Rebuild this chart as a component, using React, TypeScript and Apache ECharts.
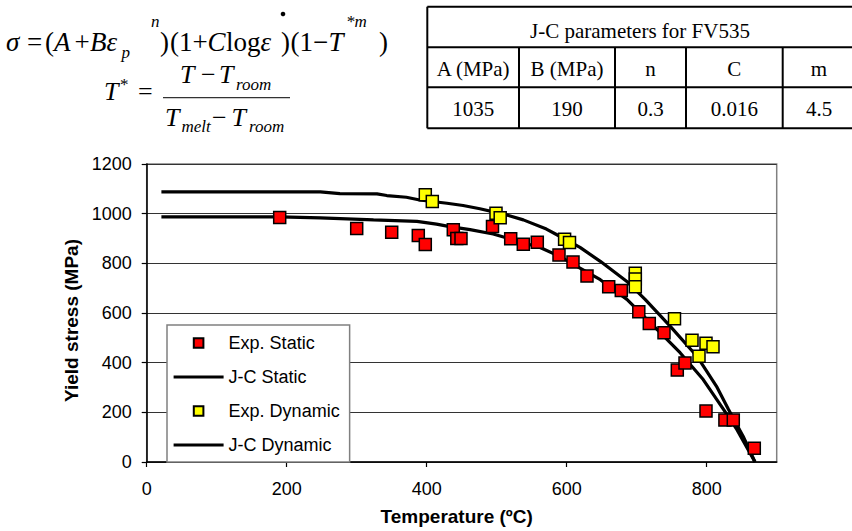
import React, { useEffect, useRef } from 'react';
import * as echarts from 'echarts';

// ---- data ----
const xTickValues = [0, 200, 400, 600, 800];
const legendNames = ['Exp. Static', 'J-C Static', 'Exp. Dynamic', 'J-C Dynamic'];
const xTitle = 'Temperature (ºC)';
const yTitle = 'Yield stress (MPa)';

const expStaticT = [190, 300, 350, 388, 398, 438, 443, 449, 494, 520, 538, 558, 589, 609, 629, 660, 678, 703, 718, 739, 758, 769, 799, 826, 838, 868];
const expStaticS = [985, 940, 925, 912, 876, 935, 900, 900, 948, 899, 877, 885, 834, 805, 749, 706, 691, 605, 558, 520, 370, 399, 205, 169, 169, 55];

const expDynamicT = [398, 408, 499, 505, 597, 604, 698, 698, 698, 754, 779, 789, 799, 809];
const expDynamicS = [1076, 1049, 1002, 984, 897, 884, 760, 737, 706, 577, 490, 426, 478, 464];

const jcStaticT = [21, 190, 248, 324, 386, 414, 433, 462, 495, 529, 562, 590, 619, 648, 686, 724, 762, 795, 824, 843, 869];
const jcStaticS = [987, 987, 983, 975, 969, 958, 948, 936, 918, 890, 864, 828, 781, 734, 655, 548, 440, 332, 212, 131, 0];

const jcDynamicT = [21, 248, 276, 329, 343, 371, 390, 429, 452, 476, 514, 538, 571, 586, 619, 648, 686, 712, 748, 786, 814, 831, 852, 869];
const jcDynamicS = [1088, 1088, 1081, 1080, 1073, 1066, 1055, 1042, 1033, 1020, 995, 975, 938, 915, 864, 808, 727, 655, 546, 426, 305, 212, 104, 0];

const tableTitle = 'J-C parameters for FV535';
const tableHeaders = ['A (MPa)', 'B (MPa)', 'n', 'C', 'm'];
const tableValues = ['1035', '190', '0.3', '0.016', '4.5'];

const SANS = "Arial, 'Liberation Sans', sans-serif";
const SERIF = "'Times New Roman', 'Liberation Serif', serif";

function pairs(xs: number[], ys: number[]) {
  return xs.map((x, i) => [x, ys[i]]);
}

function tok(text: string, x: number, baseline: number, size: number, italic: boolean) {
  return {
    type: 'text',
    silent: true,
    style: {
      text,
      x,
      y: baseline - 0.34 * size,
      font: `${italic ? 'italic ' : ''}${size}px ${SERIF}`,
      fill: '#000',
      textAlign: 'left',
      textVerticalAlign: 'middle',
    },
  };
}

function buildFormula() {
  const b1 = 51;
  const M = 27;
  const S = 17;
  const M2 = 26;
  const els: any[] = [
    tok('σ', 6, b1, M, true),
    tok('=', 27, b1, M, false),
    tok('(', 45, b1, M, false),
    tok('A', 54, b1, M, true),
    tok('+', 74.5, b1, M, false),
    tok('B', 90, b1, M, true),
    tok('ε', 106.5, b1, M, true),
    tok('p', 121.5, 58, S, true),
    tok('n', 151, 27, S, true),
    tok(')', 160, b1, M, false),
    tok('(', 170, b1, M, false),
    tok('1', 179, b1, M, false),
    tok('+', 192.5, b1, M, false),
    tok('C', 207.5, b1, M, true),
    tok('log', 226, b1, M, false),
    tok('ε', 260.5, b1, M, true),
    tok(')', 281, b1, M, false),
    tok('(', 290.5, b1, M, false),
    tok('1', 299.5, b1, M, false),
    tok('−', 313, b1, M, false),
    tok('T', 328.5, b1, M, true),
    tok('*m', 346, 27, S, true),
    tok(')', 379, b1, M, false),
    { type: 'circle', silent: true, shape: { cx: 283, cy: 14, r: 2.3 }, style: { fill: '#000' } },
    // T* line
    tok('T', 104, 100, M2, true),
    tok('*', 120, 90, S, false),
    tok('=', 138, 100, M2, false),
    tok('T', 180, 83, M2, true),
    tok('−', 201, 83, M2, false),
    tok('T', 219, 83, M2, true),
    tok('room', 236, 90, S, true),
    { type: 'line', silent: true, shape: { x1: 163, y1: 97.7, x2: 290, y2: 97.7 }, style: { stroke: '#333', lineWidth: 1.3 } },
    tok('T', 165, 126, M2, true),
    tok('melt', 181.5, 132, S, true),
    tok('−', 212, 126, M2, false),
    tok('T', 231.5, 126, M2, true),
    tok('room', 249, 132, S, true),
  ];
  return els;
}

function buildTable() {
  const L = 427.3, R = 855, T0 = 6.7, r1 = 47.3, r2 = 87.3, B = 128.3;
  const cols = [427.3, 519, 615, 686, 782.7, 855];
  const ln = (x1: number, y1: number, x2: number, y2: number) => ({
    type: 'line', silent: true, shape: { x1, y1, x2, y2 }, style: { stroke: '#000', lineWidth: 2 },
  });
  const els: any[] = [
    ln(L, T0, R, T0), ln(L, r1, R, r1), ln(L, r2, R, r2), ln(L, B, R, B),
    ln(L, T0, L, B),
  ];
  for (let i = 1; i < cols.length - 1; i++) els.push(ln(cols[i], r1, cols[i], B));
  const txt = (text: string, x: number, y: number) => ({
    type: 'text', silent: true,
    style: { text, x, y, font: `21px ${SERIF}`, fill: '#000', textAlign: 'center', textVerticalAlign: 'middle' },
  });
  els.push(txt(tableTitle, 640, 31));
  for (let i = 0; i < tableHeaders.length; i++) {
    const cx = i === 4 ? 819 : (cols[i] + cols[i + 1]) / 2;
    els.push(txt(tableHeaders[i], cx, 69));
    els.push(txt(tableValues[i], cx, 108.5));
  }
  return els;
}

export default function App() {
  const ref = useRef<HTMLDivElement>(null);
  useEffect(() => {
    const chart = echarts.init(ref.current!, null, { renderer: 'svg' });
    const expItem = { borderColor: '#000', borderWidth: 1.5 };
    const option: any = {
      animation: false,
      backgroundColor: '#fff',
      textStyle: { fontFamily: SANS, color: '#000' },
      grid: {
        left: 146.7, right: 75.3, top: 164, bottom: 68.3,
        show: true, borderColor: '#808080', borderWidth: 1.5, backgroundColor: 'transparent',
      },
      xAxis: {
        type: 'value', min: 0, max: 900,
        name: xTitle, nameLocation: 'middle', nameGap: 45,
        nameTextStyle: { fontFamily: SANS, fontWeight: 'bold', fontSize: 19, color: '#000', padding: [0, 10, 0, 0] },
        axisLine: { show: true, lineStyle: { color: '#000', width: 1.5 } },
        axisTick: { show: true, inside: false, length: 5, lineStyle: { color: '#000', width: 1.2 }, customValues: xTickValues },
        axisLabel: { fontSize: 18, color: '#000', margin: 18, fontFamily: SANS, customValues: xTickValues, formatter: (v: number) => String(v) },
        splitLine: { show: false },
      },
      yAxis: {
        type: 'value', min: 0, max: 1200, interval: 200,
        axisLine: { show: true, lineStyle: { color: '#000', width: 1.5 } },
        axisTick: { show: true, inside: false, length: 5, lineStyle: { color: '#000', width: 1.2 } },
        axisLabel: { fontSize: 18, color: '#000', margin: 15, fontFamily: SANS, formatter: (v: number) => String(v) },
        splitLine: { show: true, lineStyle: { color: '#333', width: 1.2 } },
      },
      legend: {
        orient: 'vertical',
        left: 167, top: 325,
        padding: [9, 10, 8, 5],
        itemGap: 16,
        itemWidth: 50, itemHeight: 12,
        backgroundColor: '#fff', borderColor: '#808080', borderWidth: 1.5, borderRadius: 0,
        textStyle: { fontSize: 18, color: '#000', fontFamily: SANS },
        selectedMode: false,
        data: [
          { name: legendNames[0], lineStyle: { opacity: 0 } },
          { name: legendNames[1], itemStyle: { opacity: 0 }, lineStyle: { width: 3.2, color: '#000' } },
          { name: legendNames[2], lineStyle: { opacity: 0 } },
          { name: legendNames[3], itemStyle: { opacity: 0 }, lineStyle: { width: 3.2, color: '#000' } },
        ],
      },
      graphic: [
        ...buildFormula(),
        ...buildTable(),
        {
          type: 'text', silent: true, x: 71.7, y: 320.5, rotation: Math.PI / 2,
          style: { text: yTitle, x: 0, y: 0, font: `bold 19px ${SANS}`, fill: '#000', textAlign: 'center', textVerticalAlign: 'middle' },
        },
      ],
      series: [
        {
          name: legendNames[0], type: 'line', z: 5,
          data: pairs(expStaticT, expStaticS),
          symbol: 'rect', symbolSize: 12,
          lineStyle: { opacity: 0, width: 0 },
          itemStyle: { color: '#ff0000', ...expItem },
        },
        {
          name: legendNames[1], type: 'line', z: 3,
          data: pairs(jcStaticT, jcStaticS),
          symbol: 'none',
          lineStyle: { color: '#000', width: 3.2 },
          itemStyle: { color: '#000' },
        },
        {
          name: legendNames[2], type: 'line', z: 6,
          data: pairs(expDynamicT, expDynamicS),
          symbol: 'rect', symbolSize: 12,
          lineStyle: { opacity: 0, width: 0 },
          itemStyle: { color: '#ffff00', ...expItem },
        },
        {
          name: legendNames[3], type: 'line', z: 3,
          data: pairs(jcDynamicT, jcDynamicS),
          symbol: 'none',
          lineStyle: { color: '#000', width: 3.2 },
          itemStyle: { color: '#000' },
        },
      ],
    };
    chart.setOption(option);
    return () => chart.dispose();
  }, []);
  return <div ref={ref} style={{ position: 'fixed', left: 0, top: 0, width: 852, height: 531, background: '#fff' }} />;
}
